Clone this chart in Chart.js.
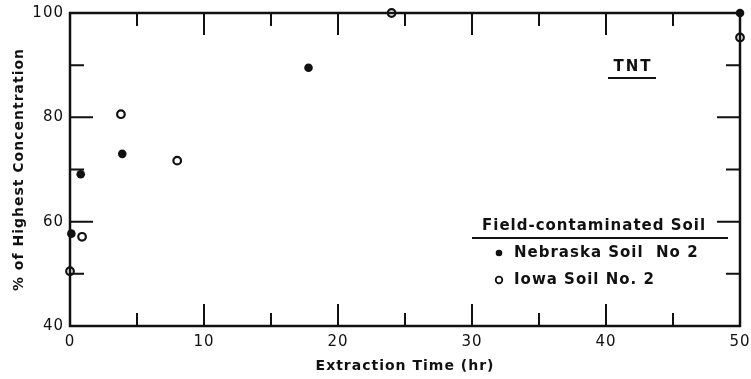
<!DOCTYPE html>
<html>
<head>
<meta charset="utf-8">
<script src="https://cdn.jsdelivr.net/npm/chart.js@4"></script>
<style>
  html, body { margin: 0; padding: 0; background: #fff; }
  #wrap { width: 751px; height: 379px; }
</style>
</head>
<body>
<div id="wrap"><canvas id="tnt"></canvas></div>
<script>
// extraction time (hr) and % of highest concentration
const nebraskaTime = [0.1, 0.8, 3.9, 17.8, 50];
const nebraskaConc = [57.7, 69.1, 73.0, 89.5, 100];
const iowaTime = [0, 0.9, 3.8, 8.0, 24, 50];
const iowaConc = [50.5, 57.1, 80.6, 71.7, 100, 95.3];

const xTicks = [0, 10, 20, 30, 40, 50];
const yTicks = [40, 60, 80, 100];

const legendTitle = "Field-contaminated Soil";
const plotTag = "TNT";

const ink = "#111";
const letterFont = "'DejaVu Sans', sans-serif";

function toPoints(xs, ys) {
    let pts = [];
    for (let i = 0; i < xs.length; i++) {
        pts.push({ x: xs[i], y: ys[i] });
    }
    return pts;
}

// frame, inward ticks on all four sides, TNT tag and the legend box
const framePlugin = {
    id: "frame",
    beforeDraw(chart) {
        chart.ctx.letterSpacing = "1px";
    },
    afterDatasetsDraw(chart) {
        const ctx = chart.ctx;
        const a = chart.chartArea;
        const xs = chart.scales.x;
        const ys = chart.scales.y;
        ctx.save();
        ctx.strokeStyle = ink;
        ctx.lineWidth = 2.5;
        ctx.strokeRect(a.left, a.top, a.right - a.left, a.bottom - a.top);

        ctx.lineWidth = 2;
        ctx.beginPath();
        for (let t of xs.ticks) {
            if (t.value <= xs.min || t.value >= xs.max) continue;
            const px = xs.getPixelForValue(t.value);
            const len = t.value % 10 === 0 ? 22 : 13;
            ctx.moveTo(px, a.top);
            ctx.lineTo(px, a.top + len);
            ctx.moveTo(px, a.bottom);
            ctx.lineTo(px, a.bottom - len);
        }
        for (let t of ys.ticks) {
            if (t.value <= ys.min || t.value >= ys.max) continue;
            const py = ys.getPixelForValue(t.value);
            const len = t.value % 20 === 0 ? 23 : 14;
            ctx.moveTo(a.left, py);
            ctx.lineTo(a.left + len, py);
            ctx.moveTo(a.right, py);
            ctx.lineTo(a.right - len, py);
        }
        ctx.stroke();

        // TNT tag
        ctx.fillStyle = ink;
        ctx.letterSpacing = "2px";
        ctx.font = "bold 15px " + letterFont;
        ctx.textAlign = "center";
        ctx.textBaseline = "middle";
        ctx.fillText(plotTag, 633, 67);
        ctx.beginPath();
        ctx.moveTo(608, 78);
        ctx.lineTo(656, 78);
        ctx.stroke();

        // legend
        ctx.letterSpacing = "1px";
        ctx.textAlign = "left";
        ctx.fillText(legendTitle, 482, 226);
        ctx.lineWidth = 1.8;
        ctx.beginPath();
        ctx.moveTo(472, 238);
        ctx.lineTo(728, 238);
        ctx.stroke();

        const rows = [253, 280];
        chart.data.datasets.forEach((ds, i) => {
            const y = rows[i];
            ctx.beginPath();
            ctx.arc(499, y, 3.3, 0, Math.PI * 2);
            if (ds.backgroundColor === ink) {
                ctx.fill();
            } else {
                ctx.lineWidth = 1.8;
                ctx.stroke();
            }
            ctx.fillText(ds.label, 514, y);
        });
        ctx.restore();
    }
};

const ctxTnt = document.getElementById("tnt").getContext("2d");

const tntChart = new Chart(ctxTnt, {
    type: "scatter",
    data: {
        datasets: [
            {
                label: "Nebraska Soil  No 2",
                data: toPoints(nebraskaTime, nebraskaConc),
                backgroundColor: ink,
                borderColor: ink,
                pointRadius: 4.3,
                borderWidth: 0,
                clip: false
            },
            {
                label: "Iowa Soil No. 2",
                data: toPoints(iowaTime, iowaConc),
                backgroundColor: "#fff",
                borderColor: ink,
                pointRadius: 3.8,
                borderWidth: 2.2,
                clip: false
            }
        ]
    },
    options: {
        responsive: true,
        maintainAspectRatio: false,
        animation: false,
        layout: {
            padding: { top: 13, right: 11, left: 0, bottom: 0 }
        },
        plugins: {
            legend: { display: false },
            tooltip: { enabled: false }
        },
        scales: {
            x: {
                type: "linear",
                min: 0,
                max: 50,
                afterFit(scale) {
                    scale.height = 53;
                    scale.paddingLeft = 0;
                    scale.paddingRight = 0;
                },
                grid: { display: false, drawTicks: false },
                border: { display: false },
                ticks: {
                    stepSize: 5,
                    padding: 7,
                    color: ink,
                    font: { family: letterFont, size: 15 },
                    callback: (v) => xTicks.includes(v) ? String(v) : ""
                },
                title: {
                    display: true,
                    text: "Extraction Time (hr)",
                    color: ink,
                    font: { family: letterFont, size: 14, weight: "bold" },
                    padding: { top: 4, bottom: 4 }
                }
            },
            y: {
                type: "linear",
                min: 40,
                max: 100,
                afterFit(scale) {
                    scale.width = 70;
                    scale.paddingTop = 0;
                    scale.paddingBottom = 0;
                },
                grid: { display: false, drawTicks: false },
                border: { display: false },
                ticks: {
                    stepSize: 10,
                    padding: 6,
                    color: ink,
                    font: { family: letterFont, size: 15 },
                    callback: (v) => yTicks.includes(v) ? String(v) : ""
                },
                title: {
                    display: true,
                    text: "% of Highest Concentration",
                    color: ink,
                    font: { family: letterFont, size: 14, weight: "bold" },
                    padding: { top: 11, bottom: 11 }
                }
            }
        }
    },
    plugins: [framePlugin]
});
</script>
</body>
</html>
